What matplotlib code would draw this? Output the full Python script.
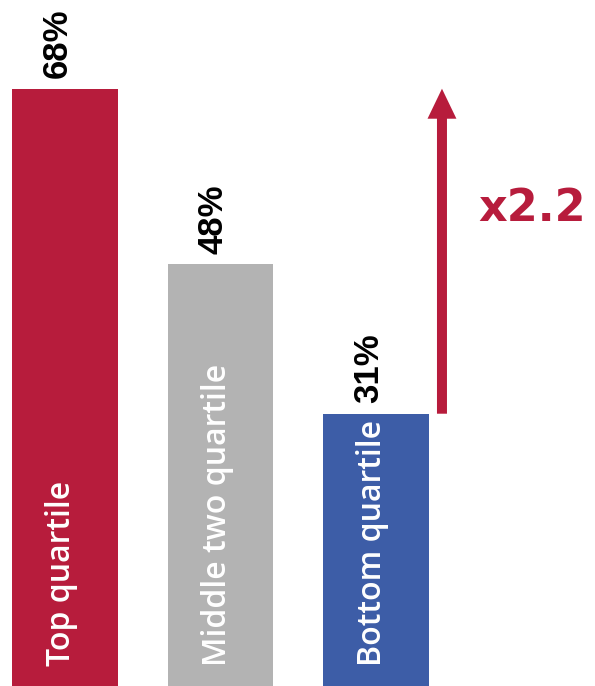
import matplotlib.pyplot as plt

# Data
categories = ["Top quartile", "Middle two quartile", "Bottom quartile"]
values = [68, 48, 31]
value_labels = ["68%", "48%", "31%"]
colors = ["#B71C3C", "#B3B3B3", "#3D5DA7"]
multiplier_label = "x2.2"

fig = plt.figure(figsize=(5.95, 6.86), dpi=100)
ax = fig.add_axes([0, 0, 1, 1])

x = list(range(len(values)))
ax.bar(x, values, width=0.68, color=colors)

for i, (v, lab, cat) in enumerate(zip(values, value_labels, categories)):
    # value label above the bar
    ax.text(i - 0.05, v + 1.2, lab, rotation=90, ha="center", va="bottom",
            fontsize=25, fontweight="bold", family="Liberation Sans", color="black")
    # category label inside the bar
    ax.text(i - 0.02, 2.3, cat, rotation=90, ha="center", va="bottom",
            fontsize=23, fontweight="semibold", family="Open Sans", color="white")

# arrow from bottom to top quartile level
arrow_x = 2.424
ax.annotate("", xy=(arrow_x, values[0]), xytext=(arrow_x, values[2]),
            arrowprops=dict(arrowstyle="simple,head_length=1.08,head_width=1.04,tail_width=0.36",
                            mutation_scale=20, color=colors[0], lw=0,
                            shrinkA=0, shrinkB=0))
ax.text(2.656, 54.4, multiplier_label, ha="left", va="center",
        fontsize=32, fontweight="bold", family="DejaVu Sans", color=colors[0])

ax.set_xlim(-0.418, 3.408)
ax.set_ylim(0, 78.1)
ax.axis("off")

plt.savefig("out.png", dpi=100)
